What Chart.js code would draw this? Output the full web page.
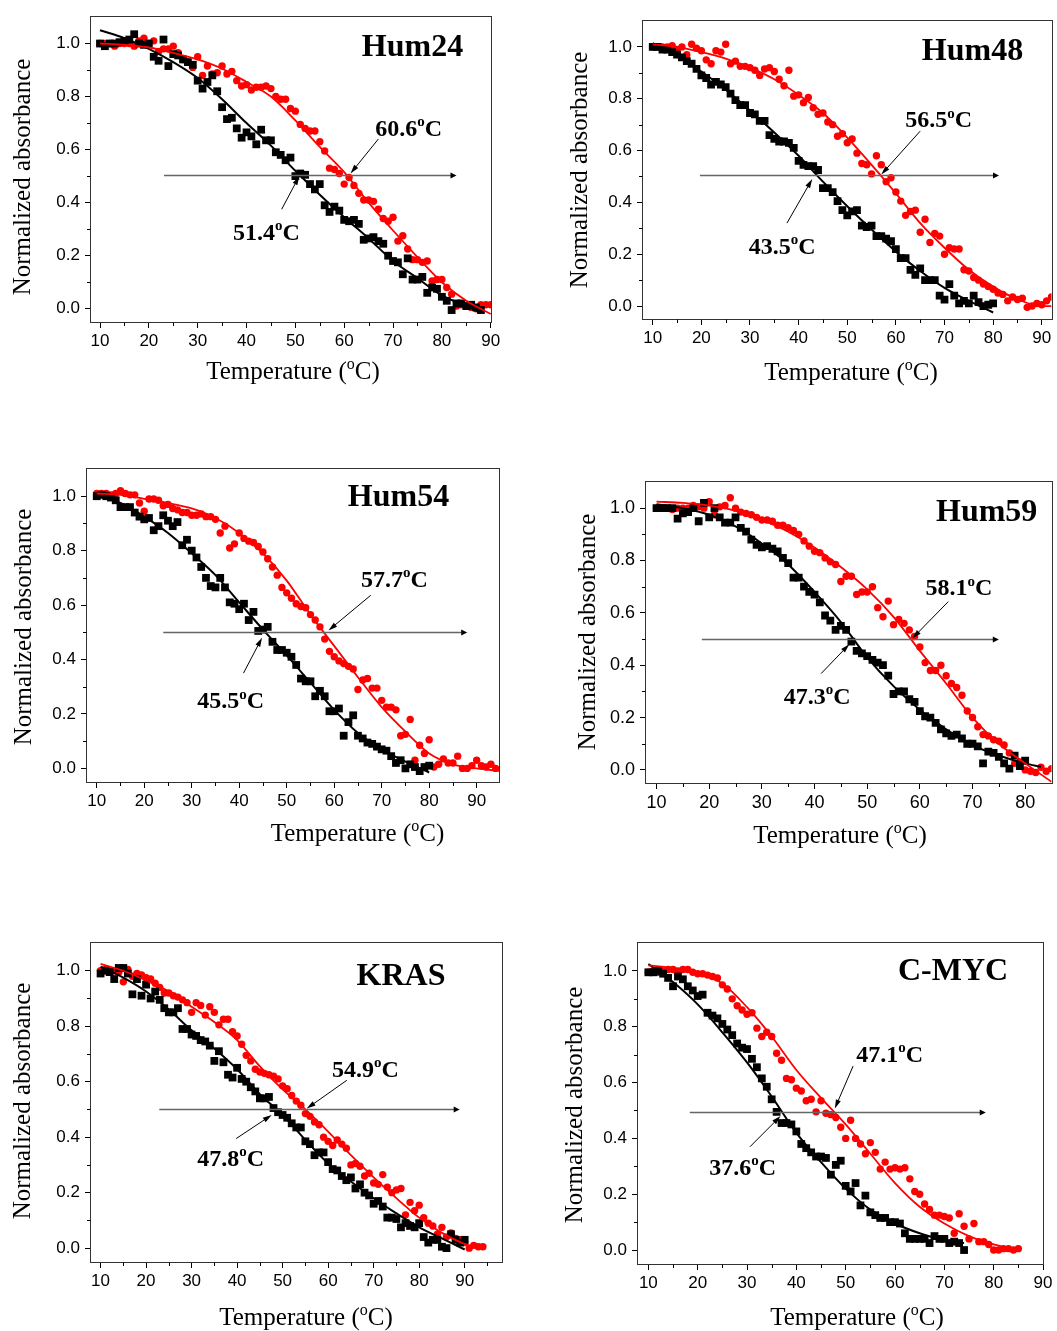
<!DOCTYPE html>
<html>
<head>
<meta charset="utf-8">
<script src="https://cdn.jsdelivr.net/npm/chart.js@4.4.1/dist/chart.umd.min.js"></script>
<style>
html,body{margin:0;padding:0;background:#fff;}
#wrap{position:relative;width:1057px;height:1331px;overflow:hidden;background:#fff;}
canvas{position:absolute;}
</style>
</head>
<body>
<div id="wrap">
<canvas id="c1"></canvas><canvas id="c2"></canvas><canvas id="c3"></canvas>
<canvas id="c4"></canvas><canvas id="c5"></canvas><canvas id="c6"></canvas>
</div>
<script>
// ---------- DATA ----------
const TEMPS = [10,11,12,13,14,15,16,17,18,19,20,21,22,23,24,25,26,27,28,29,30,31,32,33,34,35,36,37,38,39,40,41,42,43,44,45,46,47,48,49,50,51,52,53,54,55,56,57,58,59,60,61,62,63,64,65,66,67,68,69,70,71,72,73,74,75,76,77,78,79,80,81,82,83,84,85,86,87,88,89,90,91,92,93,94,95,96,97,98];
const X_TICKS_MINOR = [15,25,35,45,55,65,75,85,95];
const Y_TICKS_MINOR = [0.1,0.3,0.5,0.7,0.9];

// Hum24
const hum24Black = [1.0,0.99,1.0,1.0,1.005,1.01,1.015,1.035,1.0,0.995, 1.0,0.95,0.935,1.015,0.915,0.96,0.955,0.94,0.93,0.92, 0.86,0.83,0.855,0.88,0.82,0.76,0.715,0.72,0.68,0.645, 0.665,0.65,0.62,0.675,0.635,0.635,0.59,0.58,0.56,0.57, 0.50,0.51,0.505,0.47,0.45,0.47,0.39,0.365,0.385,0.37, 0.335,0.33,0.335,0.32,0.26,0.265,0.27,0.255,0.245,0.20, 0.18,0.175,0.13,0.19,0.11,0.11,0.12,0.06,0.08,0.075, 0.045,0.03,-0.005,0.02,0.02,0.01,0.015,0.005,-0.005];
const hum24Red = [1.0,1.0,1.0,0.99,1.0,1.0,1.0,0.99,1.01,1.02, 1.0,1.01,0.97,0.98,0.98,0.99,0.965,0.94,0.93,0.91, 0.95,0.88,0.915,0.885,0.89,0.915,0.885,0.895,0.86,0.84, 0.845,0.825,0.835,0.835,0.84,0.83,0.80,0.79,0.79,0.755, 0.745,0.695,0.68,0.67,0.67,0.63,0.595,0.53,0.525,0.51, 0.47,0.495,0.465,0.435,0.41,0.41,0.405,0.375,0.34,0.33, 0.345,0.255,0.275,0.225,0.185,0.185,0.175,0.18,0.105,0.11, 0.11,0.08,0.055,0.01,0.015,0.01,0.005,0.0,0.015,0.015,0.015];
const hum24BlackFitT = [10,15,20,25,30,35,40,45,50,55,60,65,70,75,80,85,88];
const hum24BlackFit = [1.05,1.02,0.98,0.93,0.87,0.79,0.70,0.615,0.52,0.43,0.345,0.265,0.18,0.115,0.05,0.01,-0.015];
const hum24RedFitT = [10,15,20,25,30,35,40,45,50,55,60,65,70,75,80,85,90];
const hum24RedFit = [1.0,0.995,0.985,0.965,0.94,0.905,0.855,0.80,0.71,0.61,0.515,0.40,0.295,0.195,0.10,0.03,-0.02];

// Hum48
const hum48Black = [1.0,1.0,0.99,0.99,0.98,0.97,0.96,0.945,0.935,0.915, 0.89,0.88,0.855,0.865,0.855,0.845,0.82,0.795,0.775,0.775, 0.745,0.74,0.715,0.715,0.66,0.645,0.635,0.635,0.63,0.61, 0.56,0.545,0.54,0.54,0.525,0.455,0.455,0.44,0.405,0.37, 0.35,0.365,0.37,0.31,0.305,0.31,0.27,0.27,0.26,0.25, 0.22,0.185,0.185,0.14,0.12,0.145,0.10,0.10,0.10,0.04, 0.025,0.085,0.04,0.01,0.02,0.01,0.04,0.015,0.0,0.005,0.01];
const hum48Red = [1.0,1.0,1.0,1.0,1.005,0.99,1.0,0.97,1.01,0.995, 0.985,0.95,0.935,0.985,0.98,1.01,0.935,0.945,0.925,0.925, 0.92,0.91,0.89,0.915,0.92,0.905,0.875,0.85,0.91,0.81, 0.815,0.785,0.805,0.765,0.74,0.745,0.71,0.70,0.655,0.665, 0.63,0.645,0.59,0.55,0.545,0.51,0.58,0.545,0.48,0.495, 0.44,0.405,0.35,0.365,0.37,0.285,0.335,0.245,0.28,0.27, 0.20,0.225,0.22,0.22,0.14,0.135,0.11,0.10,0.085,0.075, 0.065,0.05,0.045,0.02,0.035,0.025,0.03,-0.005,0.0,0.01,0.005,0.02,0.035];
const hum48BlackFitT = [10,15,20,25,30,35,40,45,50,55,60,65,70,75,80];
const hum48BlackFit = [1.015,0.965,0.905,0.835,0.755,0.67,0.58,0.48,0.385,0.295,0.21,0.135,0.07,0.02,-0.025];
const hum48RedFitT = [10,15,20,25,30,35,40,45,50,55,60,65,70,75,80,85,90,92];
const hum48RedFit = [1.01,1.0,0.98,0.955,0.92,0.875,0.815,0.745,0.65,0.545,0.435,0.32,0.225,0.14,0.075,0.026,0.0,0.0];

// Hum54
const hum54Black = [1.0,1.005,1.0,0.995,0.985,0.96,0.96,0.96,0.94,0.925, 0.915,0.92,0.875,0.89,0.93,0.91,0.89,0.905,0.82,0.84, 0.80,0.775,0.74,0.70,0.67,0.665,0.70,0.665,0.61,0.605, 0.585,0.605,0.545,0.575,0.505,0.51,0.52,0.465,0.435,0.435, 0.425,0.41,0.38,0.33,0.32,0.32,0.265,0.285,0.265,0.21, 0.21,0.22,0.12,0.17,0.195,0.12,0.11,0.095,0.09,0.08, 0.07,0.065,0.045,0.02,0.03,0.0,0.015,0.005,-0.01,0.005,0.01];
const hum54Red = [1.01,1.01,1.01,1.005,1.01,1.02,1.01,1.005,1.005,0.975, 0.945,0.99,0.99,0.985,0.965,0.97,0.955,0.95,0.94,0.94, 0.93,0.93,0.935,0.925,0.925,0.915,0.865,0.89,0.81,0.825, 0.865,0.845,0.835,0.83,0.815,0.795,0.77,0.74,0.71,0.665, 0.645,0.625,0.605,0.595,0.59,0.565,0.545,0.52,0.475,0.43, 0.41,0.395,0.385,0.375,0.365,0.29,0.325,0.33,0.295,0.295, 0.25,0.225,0.225,0.215,0.12,0.125,0.18,0.03,0.085,0.055, 0.105,0.005,0.015,0.035,0.02,0.02,0.045,0.0,0.0,0.01, 0.03,0.01,0.005,0.015,0.0];
const hum54BlackFitT = [10,15,20,25,30,35,40,45,50,55,60,65,70,75,80];
const hum54BlackFit = [1.005,0.975,0.925,0.865,0.79,0.71,0.61,0.51,0.415,0.315,0.215,0.13,0.07,0.025,-0.015];
const hum54RedFitT = [10,15,20,25,30,35,40,45,50,55,60,65,70,75,80,85,90,95];
const hum54RedFit = [1.01,1.005,0.99,0.975,0.955,0.92,0.865,0.79,0.69,0.565,0.45,0.335,0.225,0.135,0.055,0.015,0.0,-0.01];

// Hum59
const hum59Black = [1.0,1.0,1.0,1.0,0.96,0.98,0.985,1.0,0.95,1.02, 0.965,1.0,0.965,0.945,0.945,0.965,0.925,0.91,0.88,0.86, 0.85,0.855,0.845,0.835,0.81,0.79,0.735,0.735,0.70,0.68, 0.67,0.64,0.59,0.57,0.535,0.55,0.535,0.49,0.455,0.445, 0.435,0.42,0.41,0.40,0.36,0.29,0.30,0.30,0.27,0.26, 0.225,0.205,0.20,0.18,0.155,0.14,0.13,0.135,0.12,0.10, 0.10,0.09,0.025,0.07,0.065,0.05,0.025,0.005,0.055,0.015,0.035];
const hum59Red = [1.0,1.0,1.0,0.995,1.0,1.0,1.0,1.01,1.005,1.0, 1.025,0.975,1.005,1.01,1.04,1.0,0.985,0.98,0.975,0.965, 0.955,0.955,0.95,0.935,0.935,0.925,0.915,0.90,0.875,0.855, 0.835,0.83,0.81,0.795,0.785,0.72,0.74,0.74,0.67,0.68, 0.68,0.70,0.62,0.585,0.645,0.555,0.575,0.56,0.535,0.51, 0.47,0.41,0.38,0.38,0.40,0.36,0.33,0.315,0.285,0.225, 0.20,0.165,0.135,0.13,0.115,0.11,0.095,0.065,0.025,0.03, 0.0,-0.005,-0.01,0.01,-0.005,0.005];
const hum59BlackFitT = [10,15,20,25,30,35,40,45,50,55,60,65,70,75,80,83];
const hum59BlackFit = [1.015,1.0,0.975,0.93,0.865,0.785,0.68,0.565,0.43,0.32,0.23,0.155,0.095,0.055,0.025,0.012];
const hum59RedFitT = [10,15,20,25,30,35,40,45,50,55,60,65,70,75,80,85];
const hum59RedFit = [1.025,1.02,1.01,0.99,0.955,0.91,0.85,0.775,0.69,0.585,0.455,0.33,0.20,0.10,0.025,-0.045];

// KRAS
const krasBlack = [0.99,1.0,0.995,0.97,1.01,1.01,0.99,0.915,0.97,0.91, 0.95,0.90,0.925,0.895,0.865,0.85,0.85,0.865,0.79,0.79, 0.77,0.765,0.75,0.745,0.73,0.675,0.71,0.67,0.625,0.615, 0.65,0.61,0.60,0.58,0.565,0.54,0.54,0.545,0.505,0.49, 0.48,0.47,0.45,0.435,0.435,0.385,0.375,0.335,0.345,0.345, 0.31,0.285,0.28,0.26,0.245,0.255,0.215,0.23,0.20,0.19, 0.16,0.17,0.15,0.11,0.11,0.105,0.075,0.09,0.08,0.075, 0.09,0.04,0.02,0.03,0.03,0.005,0.0,0.05,0.03,0.02,0.03];
const krasRed = [1.0,1.005,1.0,1.0,0.995,0.96,1.005,0.98,0.99,0.985, 0.975,0.97,0.955,0.94,0.92,0.92,0.91,0.905,0.895,0.885, 0.85,0.885,0.875,0.84,0.87,0.85,0.805,0.825,0.825,0.78, 0.765,0.735,0.695,0.675,0.645,0.635,0.63,0.625,0.62,0.61, 0.585,0.575,0.55,0.53,0.515,0.485,0.475,0.455,0.445,0.40, 0.385,0.37,0.39,0.375,0.36,0.30,0.305,0.295,0.26,0.27, 0.235,0.23,0.265,0.22,0.20,0.21,0.215,0.12,0.165,0.135, 0.155,0.11,0.09,0.08,0.05,0.075,0.04,0.055,0.035,0.03, 0.02,0.0,0.01,0.005,0.005];
const krasBlackFitT = [10,15,20,25,30,35,40,45,50,55,60,65,70,75,80,85,90];
const krasBlackFit = [1.015,0.975,0.925,0.86,0.785,0.72,0.645,0.555,0.48,0.39,0.305,0.24,0.18,0.125,0.075,0.035,-0.005];
const krasRedFitT = [10,15,20,25,30,35,40,45,50,55,60,65,70,75,80,85,90,94];
const krasRedFit = [1.025,1.0,0.965,0.925,0.87,0.815,0.75,0.655,0.572,0.50,0.42,0.335,0.255,0.18,0.11,0.055,0.015,-0.002];

// C-MYC
const cmycBlack = [0.995,0.995,1.0,0.99,0.975,0.945,0.98,0.97,0.945,0.93, 0.91,0.915,0.85,0.84,0.83,0.81,0.79,0.77,0.74,0.725, 0.72,0.685,0.655,0.615,0.585,0.54,0.495,0.455,0.455,0.45, 0.425,0.38,0.365,0.35,0.335,0.335,0.33,0.27,0.305,0.32, 0.23,0.21,0.24,0.16,0.195,0.135,0.125,0.115,0.115,0.10, 0.10,0.095,0.06,0.04,0.04,0.04,0.04,0.025,0.05,0.04, 0.04,0.025,0.03,0.025,0.0];
const cmycRed = [0.995,1.0,0.995,1.0,1.005,1.005,1.0,1.005,1.005,0.995, 0.99,0.99,0.985,0.98,0.975,0.95,0.935,0.90,0.875,0.86, 0.845,0.85,0.795,0.765,0.78,0.765,0.705,0.68,0.615,0.61, 0.58,0.57,0.535,0.54,0.495,0.535,0.49,0.485,0.475,0.44, 0.40,0.465,0.40,0.38,0.345,0.385,0.35,0.29,0.315,0.29, 0.295,0.29,0.295,0.255,0.21,0.20,0.165,0.145,0.125,0.125, 0.12,0.115,0.06,0.13,0.085,0.04,0.095,0.03,0.03,0.02, 0.0,0.0,0.005,0.005,0.0,0.005];
const cmycBlackFitT = [10,15,20,25,30,35,40,45,50,55,60,65,70,74];
const cmycBlackFit = [1.025,0.96,0.88,0.78,0.672,0.55,0.42,0.315,0.22,0.145,0.095,0.06,0.035,0.025];
const cmycRedFitT = [10,15,20,25,30,35,40,45,50,55,60,65,70,75,80,85];
const cmycRedFit = [1.02,1.01,0.99,0.955,0.87,0.765,0.645,0.545,0.45,0.345,0.24,0.155,0.095,0.05,0.02,0.0];

// ---------- PANEL LAYOUT ----------
const PANELS = [
  {id:'c1', name:'Hum24', box:[0,0,530,400], plot:[91,17,491,322], xMin:8.157, xMax:90.06, tick:17,
   title:[412.5,48], yTitle:[23,177], xTitle:[293,371],
   black:hum24Black, red:hum24Red, bft:hum24BlackFitT, bf:hum24BlackFit, rft:hum24RedFitT, rf:hum24RedFit,
   hArrow:[23.1,83,0.504], labels:[['60.6',73.2,0.683],['51.4',44.1,0.289]],
   arrows:[[67,0.64,61.3,0.51],[47.2,0.375,50.8,0.50]]},
  {id:'c2', name:'Hum48', box:[530,0,527,400], plot:[643,21,1055,319], xMin:8, xMax:92, tick:17,
   title:[972.5,51.7], yTitle:[580,170], xTitle:[851,372],
   black:hum48Black, red:hum48Red, bft:hum48BlackFitT, bf:hum48BlackFit, rft:hum48RedFitT, rf:hum48RedFit,
   hArrow:[19.7,81.2,0.505], labels:[['56.5',68.8,0.721],['43.5',36.6,0.233]],
   arrows:[[65,0.675,57,0.508],[37.6,0.32,42.8,0.49]]},
  {id:'c3', name:'Hum54', box:[0,440,530,420], plot:[87,469,499,782], xMin:7.95, xMax:94.7, tick:17,
   title:[398.5,498], yTitle:[24,627], xTitle:[357.5,833],
   black:hum54Black, red:hum54Red, bft:hum54BlackFitT, bf:hum54BlackFit, rft:hum54RedFitT, rf:hum54RedFit,
   hArrow:[24,88,0.50], labels:[['57.7',72.7,0.697],['45.5',38.2,0.25]],
   arrows:[[67.7,0.636,58.8,0.507],[40.9,0.35,44.8,0.48]]},
  {id:'c4', name:'Hum59', box:[530,440,527,420], plot:[646,482,1056,783], xMin:8, xMax:85, tick:18,
   title:[986.7,512.7], yTitle:[588,632], xTitle:[840,835],
   black:hum59Black, red:hum59Red, bft:hum59BlackFitT, bf:hum59BlackFit, rft:hum59RedFitT, rf:hum59RedFit,
   hArrow:[18.6,75,0.50], labels:[['58.1',67.4,0.697],['47.3',40.5,0.283]],
   arrows:[[65.4,0.643,58.6,0.503],[41.25,0.368,46.6,0.48]]},
  {id:'c5', name:'KRAS', box:[0,900,530,431], plot:[91,943,502,1262], xMin:7.9, xMax:98.2, tick:17,
   title:[401,976.7], yTitle:[23,1101], xTitle:[306,1317],
   black:krasBlack, red:krasRed, bft:krasBlackFitT, bf:krasBlackFit, rft:krasRedFitT, rf:krasRedFit,
   hArrow:[22.9,88.9,0.50], labels:[['54.9',68.2,0.647],['47.8',38.6,0.325]],
   arrows:[[64.1,0.605,55.3,0.503],[39.8,0.395,47.6,0.48]]},
  {id:'c6', name:'C-MYC', box:[530,900,527,431], plot:[638,943,1043,1264], xMin:7.9, xMax:90, tick:17,
   title:[953,971.7], yTitle:[575,1105], xTitle:[857,1317],
   black:cmycBlack, red:cmycRed, bft:cmycBlackFitT, bf:cmycBlackFit, rft:cmycRedFitT, rf:cmycRedFit,
   hArrow:[18.4,78.4,0.495], labels:[['47.1',58.9,0.702],['37.6',29.1,0.298]],
   arrows:[[51.5,0.659,47.8,0.507],[30.6,0.37,36.8,0.48]]}
];

const SERIF = '"Liberation Serif","Times New Roman",serif';
const SANS = '"Liberation Sans",Arial,sans-serif';

function toPts(xs, vals){ return vals.map((v,i)=>({x:xs[i], y:v})); }

function supText(ctx, pre, post, cx, cy, size, bold){
  const w = bold ? 'bold ' : '';
  const main = w + size + 'px ' + SERIF;
  const sup = w + Math.round(size*0.62) + 'px ' + SERIF;
  ctx.font = main; const w1 = ctx.measureText(pre).width; const w3 = ctx.measureText(post).width;
  ctx.font = sup; const w2 = ctx.measureText('o').width;
  let x = cx - (w1+w2+w3)/2;
  const base = cy + size*0.33;
  ctx.textAlign = 'left'; ctx.textBaseline = 'alphabetic';
  ctx.font = main; ctx.fillText(pre, x, base); x += w1;
  ctx.font = sup; ctx.fillText('o', x, base - size*0.40); x += w2;
  ctx.font = main; ctx.fillText(post, x, base);
}

function arrowTo(ctx, x0, y0, x1, y1, len, half, lineColor, lw, headColor){
  ctx.strokeStyle = lineColor; ctx.lineWidth = lw;
  const ang = Math.atan2(y1-y0, x1-x0);
  const bx = x1 - len*Math.cos(ang), by = y1 - len*Math.sin(ang);
  ctx.beginPath(); ctx.moveTo(x0,y0); ctx.lineTo(bx + 0.5*Math.cos(ang), by + 0.5*Math.sin(ang)); ctx.stroke();
  ctx.fillStyle = headColor;
  ctx.beginPath();
  ctx.moveTo(x1,y1);
  ctx.lineTo(bx + half*Math.sin(ang), by - half*Math.cos(ang));
  ctx.lineTo(bx - half*Math.sin(ang), by + half*Math.cos(ang));
  ctx.closePath(); ctx.fill();
}

function decor(p){
  return {
    id: 'decor',
    afterDraw(chart){
      const ctx = chart.ctx, a = chart.chartArea, xs = chart.scales.x, ys = chart.scales.y;
      const ox = p.box[0], oy = p.box[1];
      const X = v => xs.getPixelForValue(v), Y = v => ys.getPixelForValue(v);
      ctx.save();
      // frame
      const l = Math.round(a.left) - 0.5, t = Math.round(a.top) - 0.5, r = Math.round(a.right) + 0.5, b = Math.round(a.bottom) + 0.5;
      ctx.strokeStyle = '#333'; ctx.lineWidth = 1;
      ctx.strokeRect(l, t, r - l, b - t);
      // minor ticks
      ctx.strokeStyle = '#000';
      ctx.beginPath();
      X_TICKS_MINOR.filter(v => v > p.xMin && v < p.xMax).forEach(v => {
        const x = Math.round(X(v)) + 0.5; ctx.moveTo(x, b); ctx.lineTo(x, b + 3.5);
      });
      Y_TICKS_MINOR.forEach(v => {
        const y = Math.round(Y(v)) + 0.5; ctx.moveTo(l, y); ctx.lineTo(l - 3.5, y);
      });
      ctx.stroke();
      ctx.fillStyle = '#000';
      // panel title
      ctx.font = 'bold 32px ' + SERIF; ctx.textAlign = 'center'; ctx.textBaseline = 'middle';
      ctx.fillText(p.name, p.title[0] - ox, p.title[1] - oy);
      // y title
      ctx.save();
      ctx.translate(p.yTitle[0] - ox, p.yTitle[1] - oy); ctx.rotate(-Math.PI/2);
      ctx.font = '25px ' + SERIF; ctx.textAlign = 'center'; ctx.textBaseline = 'middle';
      ctx.fillText('Normalized absorbance', 0, 0);
      ctx.restore();
      // x title
      ctx.fillStyle = '#000';
      supText(ctx, 'Temperature (', 'C)', p.xTitle[0] - ox, p.xTitle[1] - oy, 25, false);
      // horizontal arrow at 0.5
      const h = p.hArrow;
      arrowTo(ctx, X(h[0]), Math.round(Y(h[2])) + 0.5, X(h[1]), Math.round(Y(h[2])) + 0.5, 6, 3, '#666', 1.4, '#000');
      // pointer arrows
      p.arrows.forEach(s => arrowTo(ctx, X(s[0]), Y(s[1]), X(s[2]), Y(s[3]), 9, 2.6, '#000', 1, '#000'));
      // Tm labels
      ctx.fillStyle = '#000';
      p.labels.forEach(lb => supText(ctx, lb[0], 'C', X(lb[1]), Y(lb[2]), 24, true));
      ctx.restore();
    }
  };
}

function build(p){
  const cv = document.getElementById(p.id);
  const W = p.box[2], H = p.box[3];
  cv.width = W; cv.height = H;
  cv.style.left = p.box[0] + 'px'; cv.style.top = p.box[1] + 'px';
  cv.style.width = W + 'px'; cv.style.height = H + 'px';
  const L = p.plot[0] - p.box[0], T = p.plot[1] - p.box[1], R = p.plot[2] - p.box[0], B = p.plot[3] - p.box[1];
  const XH = 40;
  new Chart(cv, {
    type: 'scatter',
    data: { datasets: [
      {data: toPts(p.rft, p.rf), showLine: true, borderColor: '#ff0000', borderWidth: 1.8, pointRadius: 0, cubicInterpolationMode: 'monotone', fill: false},
      {data: toPts(p.bft, p.bf), showLine: true, borderColor: '#000000', borderWidth: 2, pointRadius: 0, cubicInterpolationMode: 'monotone', fill: false},
      {data: toPts(TEMPS, p.black), showLine: false, pointStyle: 'rect', pointRadius: 5.5, backgroundColor: '#000', borderColor: '#000', borderWidth: 0},
      {data: toPts(TEMPS, p.red), showLine: false, pointStyle: 'circle', pointRadius: 3.7, backgroundColor: '#ff0000', borderColor: '#ff0000', borderWidth: 0}
    ]},
    options: {
      responsive: false, animation: false, devicePixelRatio: 1, events: [],
      layout: {padding: {left: 0, top: T, right: W - R, bottom: H - B - XH}},
      plugins: {legend: {display: false}, tooltip: {enabled: false}, title: {display: false}},
      scales: {
        x: {
          type: 'linear', position: 'bottom', min: p.xMin, max: p.xMax,
          afterFit(s){ s.height = XH; s.paddingLeft = 0; s.paddingRight = 0; },
          border: {display: false},
          grid: {drawOnChartArea: false, drawTicks: true, tickLength: 6, color: '#000', lineWidth: 1},
          ticks: {stepSize: 10, includeBounds: false, autoSkip: false, maxRotation: 0, minRotation: 0, padding: 3,
                  color: '#000', font: {size: p.tick, family: SANS},
                  callback: v => String(Math.round(v))}
        },
        y: {
          type: 'linear', position: 'left', min: -0.05, max: 1.1,
          afterFit(s){ s.width = L; s.paddingTop = 0; s.paddingBottom = 0; },
          border: {display: false},
          grid: {drawOnChartArea: false, drawTicks: true, tickLength: 6, color: '#000', lineWidth: 1},
          ticks: {stepSize: 0.2, includeBounds: false, autoSkip: false, padding: 5,
                  color: '#000', font: {size: p.tick, family: SANS},
                  callback: v => (Math.round(v*10)/10).toFixed(1)}
        }
      }
    },
    plugins: [decor(p)]
  });
}

PANELS.forEach(build);
</script>
</body>
</html>
